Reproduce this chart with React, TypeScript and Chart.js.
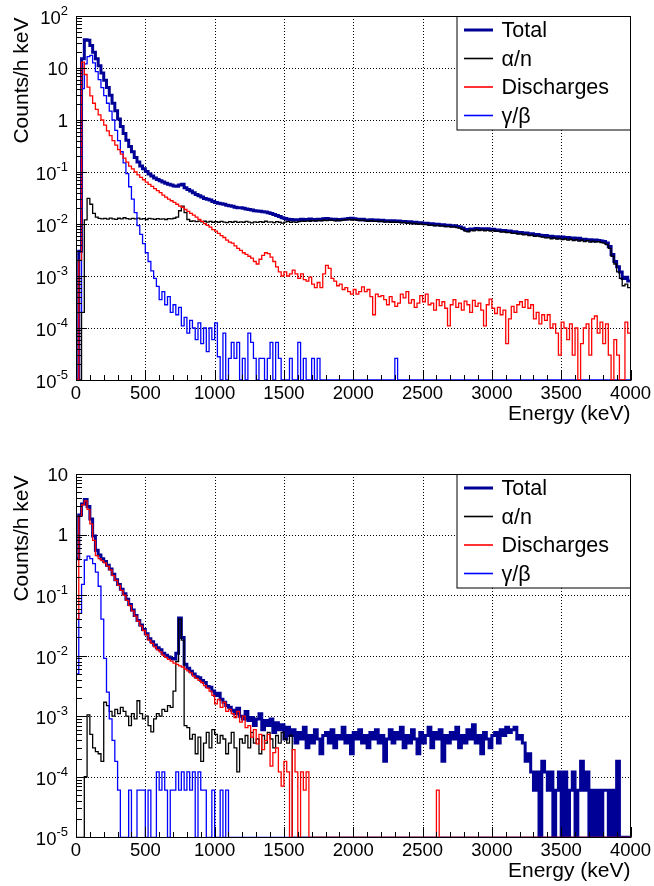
import React, { useEffect, useRef } from "react";
import { Chart, registerables } from "chart.js";

Chart.register(...registerables);

// ---------- data ----------
const BIN_WIDTH_KEV = 20; // histogram bin width, bins start at 0 keV
const ENERGY_MIN = 0;
const ENERGY_MAX = 4000;
const ENERGY_TICKS = [0, 500, 1000, 1500, 2000, 2500, 3000, 3500, 4000];
const ENERGY_MINOR_STEP = 100;
const X_TITLE = "Energy (keV)";
const Y_TITLE = "Counts/h keV";
const SERIES_LABELS = ["Total", "α/n", "Discharges", "γ/β"];
const TOP_Y_EXPONENTS = [-5, 2];
const BOTTOM_Y_EXPONENTS = [-5, 1];

// Top panel (counts / h keV, 20 keV bins from 0 to 4000 keV)
const topTotal = [
  0, 0.003, 15, 35, 34, 27, 20, 15, 11, 8,
  5.8, 4.2, 3.0, 2.1, 1.5, 1.05, 0.75, 0.55, 0.41, 0.31,
  0.245, 0.19, 0.155, 0.13, 0.115, 0.102, 0.092, 0.084, 0.077, 0.072,
  0.068, 0.064, 0.061, 0.058, 0.056, 0.054, 0.053, 0.056, 0.058, 0.05,
  0.046, 0.043, 0.04, 0.037, 0.035, 0.033, 0.031, 0.03, 0.029, 0.027,
  0.026, 0.025, 0.0245, 0.024, 0.023, 0.0225, 0.022, 0.021, 0.0205, 0.0205,
  0.02, 0.0195, 0.019, 0.0185, 0.018, 0.0178, 0.0175, 0.0172, 0.017, 0.0165,
  0.016, 0.0152, 0.0145, 0.014, 0.0132, 0.0128, 0.0124, 0.0122, 0.012, 0.0121,
  0.0119, 0.0123, 0.012, 0.0122, 0.0125, 0.0122, 0.012, 0.0124, 0.0121, 0.0126,
  0.0128, 0.0125, 0.0122, 0.0124, 0.012, 0.0122, 0.0123, 0.0125, 0.0127, 0.0129,
  0.0126, 0.0123, 0.0121, 0.0124, 0.012, 0.0118, 0.0121, 0.0117, 0.0119, 0.0116,
  0.0118, 0.0114, 0.0116, 0.0113, 0.0115, 0.0112, 0.0114, 0.011, 0.0112, 0.0108,
  0.011, 0.0106, 0.0108, 0.0104, 0.0106, 0.0102, 0.0103, 0.0099, 0.0101, 0.0097,
  0.0099, 0.0096, 0.0097, 0.0093, 0.0095, 0.0092, 0.0093, 0.009, 0.0088, 0.0084,
  0.0078, 0.0076, 0.008, 0.0079, 0.0082, 0.008, 0.0081, 0.0079, 0.0081, 0.0078,
  0.0079, 0.0076, 0.0077, 0.0074, 0.0075, 0.0072, 0.0073, 0.007, 0.0071, 0.0068,
  0.0069, 0.0066, 0.0067, 0.0064, 0.0065, 0.0062, 0.0063, 0.0061, 0.0059, 0.006,
  0.0057, 0.0058, 0.0055, 0.0057, 0.0054, 0.0056, 0.0053, 0.0055, 0.0052, 0.0054,
  0.0051, 0.0053, 0.005, 0.0051, 0.0049, 0.005, 0.0047, 0.0049, 0.0048, 0.0047,
  0.0046, 0.0043, 0.0037, 0.0026, 0.0019, 0.0015, 0.0012, 0.0009, 0.00095, 0.0008,
];

const topAlphaN = [
  0, 0, 0.0002, 0.012, 0.031, 0.024, 0.016, 0.0135, 0.0128, 0.0125,
  0.0128, 0.0124, 0.013, 0.0126, 0.0123, 0.0129, 0.0125, 0.0132, 0.0127, 0.0124,
  0.0128, 0.0125, 0.013, 0.0124, 0.0127, 0.0122, 0.0128, 0.0125, 0.0123, 0.0127,
  0.0124, 0.0126, 0.0122, 0.0127, 0.0125, 0.0129, 0.0135, 0.018, 0.022, 0.0165,
  0.0122, 0.0113, 0.0115, 0.0111, 0.0114, 0.011, 0.0113, 0.0109, 0.0112, 0.0108,
  0.0111, 0.0108, 0.0112, 0.0109, 0.0106, 0.0111, 0.0108, 0.0112, 0.0107, 0.011,
  0.0108, 0.0112, 0.0109, 0.0105, 0.011, 0.0107, 0.0111, 0.0108, 0.0113, 0.0109,
  0.011, 0.0106, 0.0111, 0.0108, 0.0104, 0.0109, 0.0112, 0.0108, 0.011, 0.0107,
  0.0111, 0.0114, 0.0112, 0.0115, 0.0113, 0.0116, 0.0114, 0.0117, 0.0115, 0.0118,
  0.0116, 0.0119, 0.0117, 0.0115, 0.0118, 0.0116, 0.0119, 0.012, 0.0122, 0.0119,
  0.0121, 0.0118, 0.0116, 0.0119, 0.0115, 0.0113, 0.0116, 0.0112, 0.0114, 0.0111,
  0.0113, 0.0109, 0.0111, 0.0108, 0.011, 0.0107, 0.0109, 0.0105, 0.0107, 0.0103,
  0.0105, 0.0101, 0.0103, 0.0099, 0.0101, 0.0097, 0.0098, 0.0094, 0.0096, 0.0092,
  0.0094, 0.0091, 0.0092, 0.0089, 0.009, 0.0087, 0.0088, 0.0085, 0.0083, 0.0079,
  0.0073, 0.0071, 0.0076, 0.0074, 0.0078, 0.0075, 0.0077, 0.0074, 0.0076, 0.0073,
  0.0075, 0.0072, 0.0073, 0.007, 0.0071, 0.0068, 0.0069, 0.0066, 0.0067, 0.0064,
  0.0065, 0.0062, 0.0063, 0.006, 0.0061, 0.0058, 0.0059, 0.0057, 0.0056, 0.0054,
  0.0055, 0.0052, 0.0054, 0.0051, 0.0053, 0.005, 0.0052, 0.0049, 0.0051, 0.0048,
  0.005, 0.0047, 0.0049, 0.0046, 0.0048, 0.0045, 0.0047, 0.0045, 0.0046, 0.0044,
  0.0043, 0.004, 0.0034, 0.0024, 0.0017, 0.0012, 0.0009, 0.00065, 0.0007, 0.0006,
];

const topDischarges = [
  0, 0.002, 13, 7.5, 4.3, 2.9, 2.1, 1.6, 1.25, 1.0,
  0.8, 0.62, 0.5, 0.4, 0.33, 0.27, 0.22, 0.185, 0.155, 0.13,
  0.115, 0.1, 0.088, 0.079, 0.071, 0.064, 0.058, 0.053, 0.048, 0.044,
  0.04, 0.036, 0.033, 0.03, 0.028, 0.026, 0.024, 0.022, 0.021, 0.019,
  0.0175, 0.016, 0.0148, 0.0135, 0.0122, 0.0112, 0.0102, 0.0094, 0.0087, 0.0078,
  0.0073, 0.0066, 0.006, 0.0055, 0.0049, 0.0045, 0.0043, 0.0038, 0.0034, 0.0031,
  0.0028, 0.0026, 0.0024, 0.0022, 0.0019, 0.0017, 0.0021, 0.0025, 0.0028, 0.0027,
  0.0023, 0.0019, 0.0015, 0.0012, 0.001, 0.0012, 0.001, 0.0011, 0.0013, 0.0011,
  0.0009, 0.0011, 0.00085, 0.0008, 0.00095, 0.0007, 0.0006, 0.00075, 0.0006, 0.0011,
  0.0016, 0.0014, 0.0009, 0.0008, 0.00065, 0.0007, 0.00055, 0.0006, 0.0005, 0.00045,
  0.00055, 0.00045, 0.0005, 0.00062, 0.0005, 0.00055, 0.0004, 0.00018, 0.00045, 0.0004,
  0.00042, 0.00035, 0.00028, 0.0004, 0.00032, 0.00026, 0.0003, 0.00045, 0.00038, 0.0005,
  0.0003, 0.00035, 0.00025, 0.0003, 0.00042, 0.00032, 0.00045, 0.00028, 0.0003, 0.00022,
  0.00035, 0.00027, 0.00032, 0.00024, 0.00011, 0.00028, 0.00035, 0.00025, 0.0003, 0.00022,
  0.00033, 0.00028, 0.0002, 0.00034, 0.00026, 0.0003, 0.00022, 0.00011, 0.00028, 0.00036,
  0.00024, 0.00019, 0.00025, 0.00018, 0.00022, 0.00005, 0.00015, 0.00026, 0.0002, 0.00028,
  0.00032, 0.00025, 0.00035, 0.00024, 0.00028, 0.00015, 0.0002, 0.00012, 0.00018, 0.00014,
  0.00018, 0.0001, 0.00012, 0.00008, 0.00003, 0.00013, 0.0001, 0.00006, 0.00012, 0.00003,
  0.0001, 0, 0.00005, 0.0001, 0.00012, 0.00003, 0.00015, 0.00017, 0.00008, 0.00013,
  0.00005, 0.00012, 0.00003, 0, 0.00006, 0.00003, 0, 0, 0.00013, 0.00008,
];

const topGammaBeta = [
  0, 0.0002, 4, 12, 16.5, 17.5, 12.5, 8.5, 6.0, 4.2,
  2.95, 2.1, 1.48, 1.0, 0.63, 0.4, 0.245, 0.15, 0.093, 0.052,
  0.03, 0.0166, 0.0093, 0.0063, 0.0042, 0.0028, 0.0019, 0.00126, 0.0009, 0.00063,
  0.00035, 0.0005, 0.00028, 0.0004, 0.0002, 0.00028, 0.00018, 0.00025, 0.00011, 0.00016,
  0.00008, 0.00014, 0.0001, 0.00006, 0.000125, 0.00005, 0.0001, 0.000035, 0.0001, 0.00006,
  0.000125, 0.000028, 0, 0.00008, 0, 0.000026, 0.000053, 0.000026, 0.000053, 0,
  0.000026, 0, 0.00008, 0.000053, 0.000026, 0, 0.000026, 0.000026, 0, 0.000026,
  0.000053, 0, 0.000053, 0.000026, 0, 0, 0, 0.000026, 0, 0,
  0.000053, 0, 0.000026, 0, 0, 0.000026, 0, 0.000026, 0, 0,
  0, 0, 0, 0, 0, 0, 0, 0, 0, 0,
  0, 0, 0, 0, 0, 0, 0, 0, 0, 0,
  0, 0, 0, 0, 0, 0.000026, 0, 0, 0, 0,
  0, 0, 0, 0, 0, 0, 0, 0, 0, 0,
  0, 0, 0, 0, 0, 0, 0, 0, 0, 0,
  0, 0, 0, 0, 0, 0, 0, 0, 0, 0,
  0, 0, 0, 0, 0, 0, 0, 0, 0, 0,
  0, 0, 0, 0, 0, 0, 0, 0, 0, 0,
  0, 0, 0, 0, 0, 0, 0, 0, 0, 0,
  0, 0, 0, 0, 0, 0, 0, 0, 0, 0,
  0, 0, 0, 0, 0, 0, 0, 0, 0, 0,
];

// Bottom panel
const bottomTotal = [
  0.4, 2.1, 3.2, 3.8, 2.9, 1.8, 0.95, 0.55, 0.46, 0.4,
  0.36, 0.31, 0.27, 0.22, 0.18, 0.15, 0.125, 0.105, 0.085, 0.07,
  0.057, 0.046, 0.038, 0.032, 0.027, 0.023, 0.019, 0.017, 0.015, 0.0135,
  0.0125, 0.011, 0.0102, 0.0095, 0.009, 0.0088, 0.011, 0.042, 0.02, 0.0072,
  0.0062, 0.0055, 0.005, 0.0045, 0.0043, 0.0039, 0.0036, 0.0031, 0.003, 0.0026,
  0.0022, 0.0024, 0.0019, 0.0017, 0.0015, 0.0014, 0.00125, 0.0011, 0.00135, 0.001,
  0.0009, 0.0012, 0.00085, 0.00095, 0.0007, 0.0009, 0.0011, 0.0006, 0.00085, 0.0007,
  0.0009, 0.00054, 0.00078, 0.0006, 0.00072, 0.00042, 0.00066, 0.00048, 0.0006, 0.00036,
  0.00054, 0.00042, 0.00066, 0.0003, 0.00048, 0.00036, 0.0006, 0.00042, 0.00024, 0.00048,
  0.00054, 0.00036, 0.0006, 0.0003, 0.00048, 0.00042, 0.00066, 0.00036, 0.00048, 0.00024,
  0.00054, 0.00042, 0.0006, 0.00036, 0.00048, 0.0003, 0.00054, 0.00042, 0.0006, 0.00036,
  0.00048, 0.00018, 0.00042, 0.0006, 0.00036, 0.00054, 0.00042, 0.00066, 0.0003, 0.00048,
  0.00036, 0.0006, 0.00042, 0.00024, 0.00054, 0.00036, 0.00048, 0.00066, 0.0003, 0.00054,
  0.00042, 0.0006, 0.00018, 0.00048, 0.00036, 0.00054, 0.00042, 0.00066, 0.0003, 0.00048,
  0.00036, 0.0006, 0.00042, 0.00072, 0.00036, 0.00048, 0.00024, 0.00054, 0.00042, 0.0003,
  0.00048, 0.00054, 0.00036, 0.0006, 0.00048, 0.00066, 0.00054, 0.0006, 0.00066, 0.00042,
  0.00048, 0.00036, 0.00018, 0.00024, 0.00012, 0.00006, 0.00012, 0, 0.00018, 0.00012,
  0.00006, 0.00012, 0, 0.00006, 0.00012, 0, 0.00012, 0, 0.00006, 0.00012,
  0, 0.00006, 0.00018, 0.00006, 0.00012, 0, 0.00006, 0, 0.00006, 0,
  0.00006, 0.00006, 0, 0.00006, 0, 0.00018, 0, 0, 0, 0,
];

const bottomAlphaN = [
  0, 0, 0, 0.0001, 0.00105, 0.0005, 0.0003, 0.00026, 0.00024, 0.00018,
  0.0017, 0.0015, 0.0012, 0.001, 0.0013, 0.0011, 0.0014, 0.0012, 0.001, 0.0007,
  0.0011, 0.0009, 0.0018, 0.0011, 0.0009, 0.001, 0.0007, 0.00055, 0.0009, 0.0011,
  0.001, 0.0013, 0.0012, 0.0015, 0.0014, 0.0026, 0.008, 0.04, 0.018, 0.0007,
  0.00065, 0.00042, 0.0005, 0.00024, 0.00045, 0.00018, 0.00036, 0.00054, 0.0003, 0.0006,
  0.0005, 0.00036, 0.00048, 0.00042, 0.00024, 0.00036, 0.00054, 0.0003, 0.00012, 0.00042,
  0.00036, 0.00048, 0.0003, 0.00054, 0.00036, 0.00042, 0.00024, 0.00048, 0.00036, 0.00054,
  0.00042, 0.0003, 0.00048, 0.00036, 0.00054, 0.00042, 0.00036, 0.00048, 0, 0,
  0, 0, 0, 0, 0, 0, 0, 0, 0, 0,
  0, 0, 0, 0, 0, 0, 0, 0, 0, 0,
  0, 0, 0, 0, 0, 0, 0, 0, 0, 0,
  0, 0, 0, 0, 0, 0, 0, 0, 0, 0,
  0, 0, 0, 0, 0, 0, 0, 0, 0, 0,
  0, 0, 0, 0, 0, 0, 0, 0, 0, 0,
  0, 0, 0, 0, 0, 0, 0, 0, 0, 0,
  0, 0, 0, 0, 0, 0, 0, 0, 0, 0,
  0, 0, 0, 0, 0, 0, 0, 0, 0, 0,
  0, 0, 0, 0, 0, 0, 0, 0, 0, 0,
  0, 0, 0, 0, 0, 0, 0, 0, 0, 0,
  0, 0, 0, 0, 0, 0, 0, 0, 0, 0,
];

const bottomDischarges = [
  0.04, 2.0, 3.1, 3.6, 2.6, 1.5, 0.8, 0.45, 0.4, 0.37,
  0.34, 0.3, 0.26, 0.21, 0.175, 0.145, 0.12, 0.1, 0.082, 0.067,
  0.055, 0.045, 0.037, 0.031, 0.026, 0.022, 0.018, 0.016, 0.014, 0.0125,
  0.0115, 0.0102, 0.0094, 0.0087, 0.0081, 0.0075, 0.0072, 0.0068, 0.0065, 0.006,
  0.0056, 0.0052, 0.0046, 0.0042, 0.0039, 0.0036, 0.0032, 0.0029, 0.0026, 0.0022,
  0.0016, 0.0019, 0.0014, 0.0017, 0.0012, 0.0013, 0.0011, 0.00095, 0.0012, 0.0008,
  0.001, 0.00065, 0.0007, 0.00045, 0.0006, 0.00035, 0.0005, 0.00028, 0.0004, 0.0005,
  0.00015, 0.00025, 0.0003, 0.00012, 0.00007, 0.00018, 0.00012, 0, 0.00028, 0.00012,
  0, 0.00012, 0.00006, 0.00012, 0, 0, 0, 0, 0, 0,
  0, 0, 0, 0, 0, 0, 0, 0, 0, 0,
  0, 0, 0, 0, 0, 0, 0, 0, 0, 0,
  0, 0, 0, 0, 0, 0, 0, 0, 0, 0,
  0, 0, 0, 0, 0, 0, 0, 0, 0, 0,
  0.00006, 0, 0, 0, 0, 0, 0, 0, 0, 0,
  0, 0, 0, 0, 0, 0, 0, 0, 0, 0,
  0, 0, 0, 0, 0, 0, 0, 0, 0, 0,
  0, 0, 0, 0, 0, 0, 0, 0, 0, 0,
  0, 0, 0, 0, 0, 0, 0, 0, 0, 0,
  0, 0, 0, 0, 0, 0, 0, 0, 0, 0,
  0, 0, 0, 0, 0, 0, 0, 0, 0, 0,
];

const bottomGammaBeta = [
  0.005, 0.05, 0.15, 0.38, 0.44, 0.4, 0.33, 0.24, 0.14, 0.04,
  0.009, 0.0025, 0.0009, 0.0004, 0.00018, 0.00006, 0, 0, 0, 0.00006,
  0, 0, 0.00006, 0.00006, 0.00006, 0, 0.00006, 0, 0, 0.00012,
  0.00006, 0.00012, 0.00006, 0, 0.00006, 0.00006, 0.00012, 0.00006, 0.00012, 0.00006,
  0.00012, 0.00006, 0.00012, 0, 0.00012, 0.00006, 0.00006, 0, 0, 0.00006,
  0, 0, 0.00006, 0, 0.00006, 0, 0, 0, 0, 0,
  0, 0, 0, 0, 0, 0, 0, 0, 0, 0,
  0, 0, 0, 0, 0, 0, 0, 0, 0, 0,
  0, 0, 0, 0, 0, 0, 0, 0, 0, 0,
  0, 0, 0, 0, 0, 0, 0, 0, 0, 0,
  0, 0, 0, 0, 0, 0, 0, 0, 0, 0,
  0, 0, 0, 0, 0, 0, 0, 0, 0, 0,
  0, 0, 0, 0, 0, 0, 0, 0, 0, 0,
  0, 0, 0, 0, 0, 0, 0, 0, 0, 0,
  0, 0, 0, 0, 0, 0, 0, 0, 0, 0,
  0, 0, 0, 0, 0, 0, 0, 0, 0, 0,
  0, 0, 0, 0, 0, 0, 0, 0, 0, 0,
  0, 0, 0, 0, 0, 0, 0, 0, 0, 0,
  0, 0, 0, 0, 0, 0, 0, 0, 0, 0,
  0, 0, 0, 0, 0, 0, 0, 0, 0, 0,
];

// ---------- styling ----------
const FONT = '"Liberation Sans", Arial, Helvetica, sans-serif';
const SERIES_COLORS = ["#000096", "#000000", "#ff0000", "#0000ff"];
const SERIES_WIDTHS = [3, 1.3, 1.3, 1.3];
// drawing order: Total underneath, Discharges on top
const SERIES_ORDER = [4, 3, 1, 2];

function histPoints(values: number[], yMin: number) {
  const pts = values.map((v, i) => ({ x: ENERGY_MIN + i * BIN_WIDTH_KEV, y: v > 0 ? v : yMin }));
  pts.push({ x: ENERGY_MIN + values.length * BIN_WIDTH_KEV, y: pts[pts.length - 1].y });
  return pts;
}

function drawPowerLabel(ctx: CanvasRenderingContext2D, e: number, xRight: number, yTick: number) {
  ctx.fillStyle = "#000";
  ctx.textAlign = "right";
  ctx.textBaseline = "alphabetic";
  if (e === 0 || e === 1) {
    ctx.font = `18.5px ${FONT}`;
    ctx.fillText(e === 0 ? "1" : "10", xRight, yTick + 6.7);
    return;
  }
  const sup = e < 0 ? "-" + String(-e) : String(e);
  ctx.font = `13px ${FONT}`;
  const w = ctx.measureText(sup).width;
  ctx.fillText(sup, xRight, yTick - 1);
  ctx.font = `18.5px ${FONT}`;
  ctx.fillText("10", xRight - w, yTick + 8);
}

function makeRootPlugin(yExp: number[]) {
  return {
    id: "rootStyle",
    beforeDatasetsDraw(chart: any) {
      const { ctx, chartArea: a } = chart;
      const xs = chart.scales.x;
      const ys = chart.scales.y;
      ctx.save();
      ctx.strokeStyle = "#000";
      ctx.lineWidth = 1;
      ctx.setLineDash([1, 2]);
      ctx.beginPath();
      for (const t of ENERGY_TICKS) {
        if (t <= ENERGY_MIN || t >= ENERGY_MAX) continue;
        const px = Math.round(xs.getPixelForValue(t)) + 0.5;
        ctx.moveTo(px, a.top);
        ctx.lineTo(px, a.bottom);
      }
      for (let e = yExp[0] + 1; e < yExp[1]; e++) {
        const py = Math.round(ys.getPixelForValue(Math.pow(10, e))) + 0.5;
        ctx.moveTo(a.left, py);
        ctx.lineTo(a.right, py);
      }
      ctx.stroke();
      ctx.restore();
    },
    afterDatasetsDraw(chart: any) {
      const { ctx, chartArea: a } = chart;
      const xs = chart.scales.x;
      const ys = chart.scales.y;
      const L = Math.round(a.left) + 0.5;
      const R = Math.floor(a.right) + 0.5;
      const T = Math.round(a.top) + 0.5;
      const B = Math.round(a.bottom) + 0.5;
      ctx.save();
      // frame
      ctx.strokeStyle = "#000";
      ctx.lineWidth = 1;
      ctx.setLineDash([]);
      ctx.strokeRect(L, T, R - L, B - T);
      // x ticks (inside, from bottom)
      ctx.beginPath();
      for (let v = ENERGY_MIN; v <= ENERGY_MAX; v += ENERGY_MINOR_STEP) {
        const px = Math.round(xs.getPixelForValue(v)) + 0.5;
        const major = ENERGY_TICKS.includes(v);
        ctx.moveTo(px, B);
        ctx.lineTo(px, B - (major ? 10.5 : 5.5));
      }
      // y ticks (inside, from left)
      for (let e = yExp[0]; e <= yExp[1]; e++) {
        const py = Math.round(ys.getPixelForValue(Math.pow(10, e))) + 0.5;
        ctx.moveTo(L, py);
        ctx.lineTo(L + 10.5, py);
        if (e < yExp[1]) {
          for (let k = 2; k <= 9; k++) {
            const pm = Math.round(ys.getPixelForValue(k * Math.pow(10, e))) + 0.5;
            ctx.moveTo(L, pm);
            ctx.lineTo(L + 5.5, pm);
          }
        }
      }
      ctx.stroke();

      // x tick labels
      ctx.fillStyle = "#000";
      ctx.font = `18.5px ${FONT}`;
      ctx.textAlign = "center";
      ctx.textBaseline = "alphabetic";
      for (const t of ENERGY_TICKS) {
        ctx.fillText(String(t), xs.getPixelForValue(t), a.bottom + 18.5);
      }
      // y tick labels
      for (let e = yExp[0]; e <= yExp[1]; e++) {
        drawPowerLabel(ctx, e, a.left - 8, ys.getPixelForValue(Math.pow(10, e)));
      }
      // axis titles
      ctx.font = `21px ${FONT}`;
      ctx.textAlign = "right";
      ctx.fillText(X_TITLE, a.right, a.bottom + 39.5);
      ctx.save();
      ctx.translate(28, a.top + 1.5);
      ctx.rotate(-Math.PI / 2);
      ctx.textAlign = "right";
      ctx.fillText(Y_TITLE, 0, 0);
      ctx.restore();

      // legend
      const LW = 173.5;
      const LH = 113.5;
      const bx = R - LW;
      const by = T;
      ctx.fillStyle = "#fff";
      ctx.fillRect(bx, by, LW, LH);
      ctx.strokeStyle = "#000";
      ctx.lineWidth = 1;
      ctx.strokeRect(bx, by, LW, LH);
      SERIES_LABELS.forEach((label, i) => {
        const cy = by + 13.5 + i * 28.5;
        ctx.strokeStyle = SERIES_COLORS[i];
        ctx.lineWidth = i === 0 ? 3 : 1.6;
        ctx.beginPath();
        ctx.moveTo(bx + 7, cy);
        ctx.lineTo(bx + 36, cy);
        ctx.stroke();
        ctx.fillStyle = "#000";
        ctx.font = `21.5px ${FONT}`;
        ctx.textAlign = "left";
        ctx.fillText(label, bx + 44.5, cy + 7.2);
      });
      ctx.restore();
    },
  };
}

function buildConfig(series: number[][], yExp: number[], padding: any): any {
  const yMin = Math.pow(10, yExp[0]);
  const yMax = Math.pow(10, yExp[1]);
  return {
    type: "line",
    data: {
      datasets: series.map((vals, i) => ({
        label: SERIES_LABELS[i],
        data: histPoints(vals, yMin),
        borderColor: SERIES_COLORS[i],
        backgroundColor: SERIES_COLORS[i],
        borderWidth: SERIES_WIDTHS[i],
        stepped: true,
        fill: false,
        pointRadius: 0,
        pointHoverRadius: 0,
        tension: 0,
        borderJoinStyle: "miter",
        borderCapStyle: "butt",
        order: SERIES_ORDER[i],
      })),
    },
    options: {
      animation: false,
      responsive: false,
      maintainAspectRatio: false,
      events: [],
      layout: { padding },
      plugins: {
        legend: { display: false },
        tooltip: { enabled: false },
        title: { display: false },
      },
      scales: {
        x: { type: "linear", min: ENERGY_MIN, max: ENERGY_MAX, display: false },
        y: { type: "logarithmic", min: yMin, max: yMax, display: false },
      },
    },
    plugins: [makeRootPlugin(yExp)],
  };
}

export default function App() {
  const topRef = useRef<HTMLCanvasElement>(null);
  const bottomRef = useRef<HTMLCanvasElement>(null);

  useEffect(() => {
    const charts: Chart[] = [];
    if (topRef.current) {
      charts.push(
        new Chart(
          topRef.current,
          buildConfig(
            [topTotal, topAlphaN, topDischarges, topGammaBeta],
            TOP_Y_EXPONENTS,
            { left: 76, right: 23.5, top: 16, bottom: 63 }
          )
        )
      );
    }
    if (bottomRef.current) {
      charts.push(
        new Chart(
          bottomRef.current,
          buildConfig(
            [bottomTotal, bottomAlphaN, bottomDischarges, bottomGammaBeta],
            BOTTOM_Y_EXPONENTS,
            { left: 76, right: 23.5, top: 31, bottom: 48.7 }
          )
        )
      );
    }
    return () => charts.forEach((c) => c.destroy());
  }, []);

  return (
    <div style={{ position: "absolute", left: 0, top: 0, width: 654, height: 886, background: "#fff" }}>
      <canvas ref={topRef} width={654} height={443} style={{ display: "block" }} />
      <canvas ref={bottomRef} width={654} height={443} style={{ display: "block" }} />
    </div>
  );
}
